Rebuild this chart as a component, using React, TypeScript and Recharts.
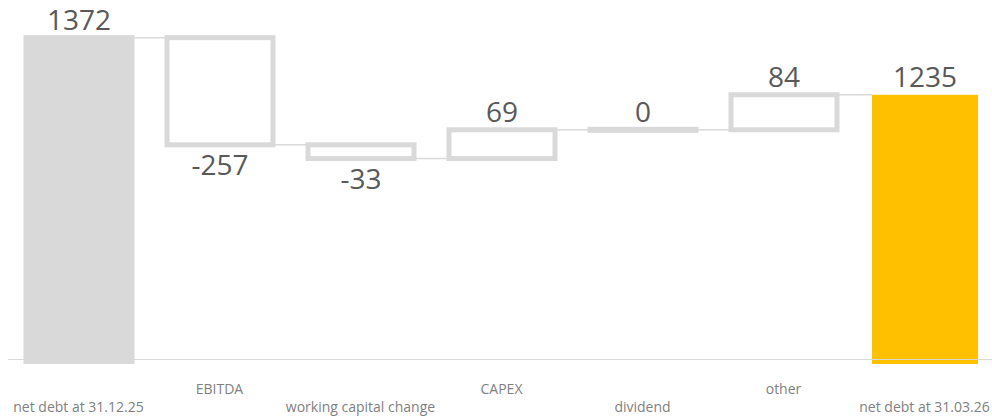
import { BarChart, Bar, XAxis, YAxis, LabelList } from "recharts";

// net debt bridge: opening balance, movements, closing balance
const categories = [
  "net debt at 31.12.25",
  "EBITDA",
  "working capital change",
  "CAPEX",
  "dividend",
  "other",
  "net debt at 31.03.26",
];
const openingDebt = 1372;
const movements = [-257, -33, 69, 0, 84];
const closingDebt = 1235;

// value axis is cut, totals run down to the floor
const DOMAIN_MIN = 600;
const DOMAIN_MAX = 1400;

const CHART_W = 992;
const CHART_H = 416;
const MARGIN = { top: 26, right: -3, bottom: 0, left: 8 };
const BAND = (CHART_W - MARGIN.left - MARGIN.right) / categories.length;

const LIGHT = "#d9d9d9";
const YELLOW = "#ffc000";
const LABEL = "#595959";
const AXIS_TEXT = "#7f7f7f";
const FONT = "'Open Sans', 'Noto Sans', sans-serif";

type Row = {
  name: string;
  range: [number, number];
  kind: "start" | "move" | "end";
  delta: number;
  label: number;
};

const rows: Row[] = [];
rows.push({
  name: categories[0],
  range: [DOMAIN_MIN, openingDebt],
  kind: "start",
  delta: 0,
  label: openingDebt,
});
let level = openingDebt;
movements.forEach((d, i) => {
  const next = level + d;
  rows.push({
    name: categories[i + 1],
    range: [Math.min(level, next), Math.max(level, next)],
    kind: "move",
    delta: d,
    label: d,
  });
  level = next;
});
rows.push({
  name: categories[categories.length - 1],
  range: [DOMAIN_MIN, closingDebt],
  kind: "end",
  delta: 0,
  label: closingDebt,
});

function WaterfallShape(props: any) {
  const { x, y, width, height, payload } = props;
  const row = payload as Row;
  const endY = row.delta < 0 ? y + height : y;

  const connector =
    row.kind !== "end" ? (
      <line
        x1={x + width}
        x2={x + BAND}
        y1={endY}
        y2={endY}
        stroke={LIGHT}
        strokeWidth={1.5}
      />
    ) : null;

  let body;
  if (row.kind === "start") {
    body = (
      <rect x={x - 2.5} y={y - 2.5} width={width + 5} height={height + 7} fill={LIGHT} />
    );
  } else if (row.kind === "end") {
    body = <rect x={x} y={y} width={width} height={height + 4.5} fill={YELLOW} />;
  } else if (height < 1) {
    body = <rect x={x - 2.5} y={y - 3} width={width + 5} height={6} fill={LIGHT} />;
  } else {
    body = (
      <rect
        x={x}
        y={y}
        width={width}
        height={height}
        fill="#fff"
        stroke={LIGHT}
        strokeWidth={5}
      />
    );
  }

  return (
    <g>
      {connector}
      {body}
    </g>
  );
}

function ValueLabel(props: any) {
  const { x, y, width, height, index } = props;
  const row = rows[index];
  if (!row) return null;
  const ty = row.delta < 0 ? y + height + 30 : y - 8;
  return (
    <text
      x={x + width / 2}
      y={ty}
      textAnchor="middle"
      fontSize={28}
      fill={LABEL}
      fontFamily={FONT}
    >
      {row.label}
    </text>
  );
}

function StaggeredTick(props: any) {
  const { x, y, payload, index } = props;
  const dy = index % 2 === 1 ? 34.5 : 52;
  return (
    <text
      x={x}
      y={y + dy}
      textAnchor="middle"
      fontSize={14}
      fill={AXIS_TEXT}
      fontFamily={FONT}
    >
      {payload.value}
    </text>
  );
}

export default function App() {
  return (
    <div style={{ width: CHART_W, height: CHART_H, fontFamily: FONT }}>
      <style>{"body{margin:0}"}</style>
      <BarChart width={CHART_W} height={CHART_H} data={rows} margin={MARGIN}>
        <XAxis
          dataKey="name"
          interval={0}
          height={56.5}
          tickLine={false}
          tickSize={0}
          tickMargin={0}
          axisLine={{ stroke: LIGHT, strokeWidth: 1 }}
          tick={<StaggeredTick />}
        />
        <YAxis hide type="number" domain={[DOMAIN_MIN, DOMAIN_MAX]} />
        <Bar
          dataKey="range"
          barSize={106}
          shape={<WaterfallShape />}
          isAnimationActive={false}
        >
          <LabelList dataKey="label" content={<ValueLabel />} />
        </Bar>
      </BarChart>
    </div>
  );
}
